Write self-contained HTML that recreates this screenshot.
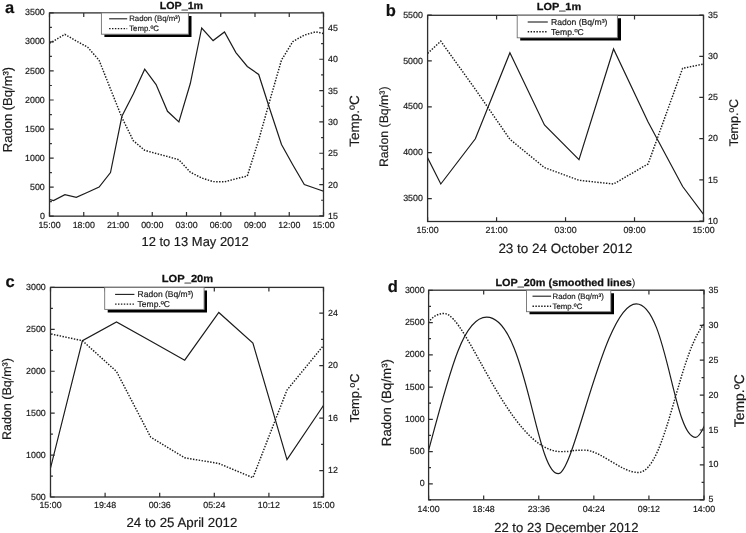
<!DOCTYPE html>
<html><head><meta charset="utf-8"><title>Radon and temperature</title>
<style>html,body{margin:0;padding:0;background:#fff;}body{width:746px;height:533px;overflow:hidden;}svg{display:block;filter:grayscale(1);text-rendering:geometricPrecision;}text{stroke:#1a1a1a;stroke-width:0.18px;font-family:"Liberation Sans",sans-serif;}</style></head><body>
<svg width="746" height="533" viewBox="0 0 746 533">
<rect width="746" height="533" fill="#fff"/>
<g>
<clipPath id="clipa"><rect x="49.5" y="12.9" width="274" height="203.25"/></clipPath>
<g clip-path="url(#clipa)" fill="none" stroke="#1c1c1c">
<path d="M42.1 197.6 L53.5 200.6 L64.9 194.6 L76.3 197.3 L87.7 192.3 L99.1 187 L110.5 172.5 L121.9 116.3 L133.3 94 L144.7 69.2 L156.1 84.6 L167.5 111.3 L178.9 122 L190.3 83.5 L201.7 28 L213.1 40.6 L224.5 32 L235.9 52.6 L247.3 66.5 L258.7 74.5 L270.1 110 L281.5 144.5 L292.9 165 L304.3 184.5 L315.7 188.5 L327.1 192.5" stroke-width="1.2" stroke-linejoin="miter"/>
<path d="M42.1 47.5 L53.5 41 L64.9 34.4 L76.3 41 L87.7 47.2 L99.1 60.3 L110.5 89 L121.9 117.5 L133.3 140.7 L144.7 150.3 L156.1 153.5 L167.5 156.5 L178.9 159.8 L190.3 172.2 L201.7 178 L213.1 181.6 L224.5 181.8 L235.9 178.8 L247.3 176 L258.7 140 L270.1 99.5 L281.5 60 L292.9 41.5 L304.3 35.1 L315.7 31.8 L327.1 34.3" stroke-width="1.45" stroke-dasharray="1.45 1.45"/>
</g>
<path d="M49.5 216.15 v-4.2 M49.5 12.9 v4.2 M83.75 216.15 v-4.2 M83.75 12.9 v4.2 M118 216.15 v-4.2 M118 12.9 v4.2 M152.25 216.15 v-4.2 M152.25 12.9 v4.2 M186.5 216.15 v-4.2 M186.5 12.9 v4.2 M220.75 216.15 v-4.2 M220.75 12.9 v4.2 M255 216.15 v-4.2 M255 12.9 v4.2 M289.25 216.15 v-4.2 M289.25 12.9 v4.2 M323.5 216.15 v-4.2 M323.5 12.9 v4.2 M49.5 216.15 h4.2 M49.5 187.11 h4.2 M49.5 158.08 h4.2 M49.5 129.04 h4.2 M49.5 100.01 h4.2 M49.5 70.97 h4.2 M49.5 41.94 h4.2 M49.5 12.9 h4.2 M49.5 201.63 h2.4 M49.5 172.6 h2.4 M49.5 143.56 h2.4 M49.5 114.53 h2.4 M49.5 85.49 h2.4 M49.5 56.45 h2.4 M49.5 27.42 h2.4 M323.5 215.9 h-4.2 M323.5 184.57 h-4.2 M323.5 153.24 h-4.2 M323.5 121.91 h-4.2 M323.5 90.58 h-4.2 M323.5 59.25 h-4.2 M323.5 27.92 h-4.2 M323.5 200.24 h-2.4 M323.5 168.91 h-2.4 M323.5 137.58 h-2.4 M323.5 106.25 h-2.4 M323.5 74.92 h-2.4 M323.5 43.59 h-2.4 M323.5 12.26 h-2.4" fill="none" stroke="#2e2e2e" stroke-width="1.2"/>
<rect x="49.5" y="12.9" width="274" height="203.25" fill="none" stroke="#2e2e2e" stroke-width="1.3"/>
<path d="M104.4 34.2 H188.4 V15.9 H191.5 V36.9 H104.4 Z" fill="#000"/>
<rect x="101.4" y="12.9" width="87" height="21.3" fill="#fff" stroke="#707070" stroke-width="0.9"/>
<path d="M109.1 18.8 H127.2" stroke="#1c1c1c" stroke-width="1.1" fill="none"/>
<path d="M109.1 28.6 H127.2" stroke="#1c1c1c" stroke-width="1.4" stroke-dasharray="1.45 1.45" fill="none"/>
<text x="129.2" y="21.4" font-size="7.8" fill="#1a1a1a">Radon (Bq/m³)</text>
<text x="129.2" y="31.1" font-size="7.8" fill="#1a1a1a">Temp.ºC</text>
<text x="49.5" y="227.85" font-size="8.85" text-anchor="middle" fill="#1a1a1a">15:00</text>
<text x="83.75" y="227.85" font-size="8.85" text-anchor="middle" fill="#1a1a1a">18:00</text>
<text x="118" y="227.85" font-size="8.85" text-anchor="middle" fill="#1a1a1a">21:00</text>
<text x="152.25" y="227.85" font-size="8.85" text-anchor="middle" fill="#1a1a1a">00:00</text>
<text x="186.5" y="227.85" font-size="8.85" text-anchor="middle" fill="#1a1a1a">03:00</text>
<text x="220.75" y="227.85" font-size="8.85" text-anchor="middle" fill="#1a1a1a">06:00</text>
<text x="255" y="227.85" font-size="8.85" text-anchor="middle" fill="#1a1a1a">09:00</text>
<text x="289.25" y="227.85" font-size="8.85" text-anchor="middle" fill="#1a1a1a">12:00</text>
<text x="323.5" y="227.85" font-size="8.85" text-anchor="middle" fill="#1a1a1a">15:00</text>
<text x="44.8" y="218.7" font-size="8.85" text-anchor="end" fill="#1a1a1a">0</text>
<text x="44.8" y="189.66" font-size="8.85" text-anchor="end" fill="#1a1a1a">500</text>
<text x="44.8" y="160.63" font-size="8.85" text-anchor="end" fill="#1a1a1a">1000</text>
<text x="44.8" y="131.59" font-size="8.85" text-anchor="end" fill="#1a1a1a">1500</text>
<text x="44.8" y="102.56" font-size="8.85" text-anchor="end" fill="#1a1a1a">2000</text>
<text x="44.8" y="73.52" font-size="8.85" text-anchor="end" fill="#1a1a1a">2500</text>
<text x="44.8" y="44.49" font-size="8.85" text-anchor="end" fill="#1a1a1a">3000</text>
<text x="44.8" y="15.45" font-size="8.85" text-anchor="end" fill="#1a1a1a">3500</text>
<text x="328" y="218.95" font-size="8.85" text-anchor="start" fill="#1a1a1a">15</text>
<text x="328" y="187.62" font-size="8.85" text-anchor="start" fill="#1a1a1a">20</text>
<text x="328" y="156.29" font-size="8.85" text-anchor="start" fill="#1a1a1a">25</text>
<text x="328" y="124.96" font-size="8.85" text-anchor="start" fill="#1a1a1a">30</text>
<text x="328" y="93.63" font-size="8.85" text-anchor="start" fill="#1a1a1a">35</text>
<text x="328" y="62.3" font-size="8.85" text-anchor="start" fill="#1a1a1a">40</text>
<text x="328" y="30.97" font-size="8.85" text-anchor="start" fill="#1a1a1a">45</text>
<text transform="translate(181.4 8.5) scale(1.0386 1)" font-size="10.3" font-weight="bold" text-anchor="middle" fill="#111" style="stroke:#111;stroke-width:0.25px">LOP_1m</text>
<text x="195.1" y="246.3" font-size="12.95" text-anchor="middle" fill="#1a1a1a">12 to 13 May 2012</text>
<text transform="translate(11.6 109.5) rotate(-90)" font-size="13" text-anchor="middle" fill="#1a1a1a">Radon (Bq/m³)</text>
<text transform="translate(358.5 121) rotate(-90)" font-size="13.5" text-anchor="middle" fill="#1a1a1a">Temp.ºC</text>
<text x="5" y="13.2" font-size="16.5" font-weight="bold" fill="#111">a</text>
</g>
<g>
<clipPath id="clipb"><rect x="427.6" y="15.3" width="275.9" height="206.2"/></clipPath>
<g clip-path="url(#clipb)" fill="none" stroke="#1c1c1c">
<path d="M406.25 115.5 L440.8 184 L475.35 138.8 L509.9 52.8 L544.45 125 L579 159.6 L613.55 49 L648.1 122 L682.65 186.5 L717.2 232.7" stroke-width="1.2" stroke-linejoin="miter"/>
<path d="M406.25 73 L440.8 41.2 L475.35 89.3 L509.9 139.3 L544.45 167.6 L579 180.3 L613.55 184 L648.1 163.9 L682.65 68.3 L717.2 61.3" stroke-width="1.45" stroke-dasharray="1.45 1.45"/>
</g>
<path d="M427.6 221.5 v-4.2 M427.6 15.3 v4.2 M496.58 221.5 v-4.2 M496.58 15.3 v4.2 M565.55 221.5 v-4.2 M565.55 15.3 v4.2 M634.52 221.5 v-4.2 M634.52 15.3 v4.2 M703.5 221.5 v-4.2 M703.5 15.3 v4.2 M427.6 198.6 h4.2 M427.6 152.72 h4.2 M427.6 106.85 h4.2 M427.6 60.97 h4.2 M427.6 15.1 h4.2 M703.5 221 h-4.2 M703.5 179.82 h-4.2 M703.5 138.64 h-4.2 M703.5 97.46 h-4.2 M703.5 56.28 h-4.2 M703.5 15.1 h-4.2" fill="none" stroke="#2e2e2e" stroke-width="1.2"/>
<rect x="427.6" y="15.3" width="275.9" height="206.2" fill="none" stroke="#2e2e2e" stroke-width="1.3"/>
<path d="M520.2 37.8 H617.4 V18.3 H621 V40.6 H520.2 Z" fill="#000"/>
<rect x="517.2" y="15.3" width="100.2" height="22.5" fill="#fff" stroke="#707070" stroke-width="0.9"/>
<path d="M527.7 22 H547.8" stroke="#1c1c1c" stroke-width="1.1" fill="none"/>
<path d="M527.7 31.8 H547.8" stroke="#1c1c1c" stroke-width="1.4" stroke-dasharray="1.45 1.45" fill="none"/>
<text x="551" y="24.9" font-size="8.6" fill="#1a1a1a">Radon (Bq/m³)</text>
<text x="551" y="34.6" font-size="8.6" fill="#1a1a1a">Temp.ºC</text>
<text x="427.6" y="232.8" font-size="8.85" text-anchor="middle" fill="#1a1a1a">15:00</text>
<text x="496.58" y="232.8" font-size="8.85" text-anchor="middle" fill="#1a1a1a">21:00</text>
<text x="565.55" y="232.8" font-size="8.85" text-anchor="middle" fill="#1a1a1a">03:00</text>
<text x="634.52" y="232.8" font-size="8.85" text-anchor="middle" fill="#1a1a1a">09:00</text>
<text x="703.5" y="232.8" font-size="8.85" text-anchor="middle" fill="#1a1a1a">15:00</text>
<text x="422.9" y="201.15" font-size="8.85" text-anchor="end" fill="#1a1a1a">3500</text>
<text x="422.9" y="155.28" font-size="8.85" text-anchor="end" fill="#1a1a1a">4000</text>
<text x="422.9" y="109.4" font-size="8.85" text-anchor="end" fill="#1a1a1a">4500</text>
<text x="422.9" y="63.52" font-size="8.85" text-anchor="end" fill="#1a1a1a">5000</text>
<text x="422.9" y="17.65" font-size="8.85" text-anchor="end" fill="#1a1a1a">5500</text>
<text x="708" y="223.7" font-size="8.85" text-anchor="start" fill="#1a1a1a">10</text>
<text x="708" y="182.52" font-size="8.85" text-anchor="start" fill="#1a1a1a">15</text>
<text x="708" y="141.34" font-size="8.85" text-anchor="start" fill="#1a1a1a">20</text>
<text x="708" y="100.16" font-size="8.85" text-anchor="start" fill="#1a1a1a">25</text>
<text x="708" y="58.98" font-size="8.85" text-anchor="start" fill="#1a1a1a">30</text>
<text x="708" y="17.8" font-size="8.85" text-anchor="start" fill="#1a1a1a">35</text>
<text transform="translate(558.95 10.3) scale(1.0601 1)" font-size="10.3" font-weight="bold" text-anchor="middle" fill="#111" style="stroke:#111;stroke-width:0.25px">LOP_1m</text>
<text x="565.4" y="252.8" font-size="13.47" text-anchor="middle" fill="#1a1a1a">23 to 24 October 2012</text>
<text transform="translate(387.8 126.8) rotate(-90)" font-size="12.3" text-anchor="middle" fill="#1a1a1a">Radon (Bq/m³)</text>
<text transform="translate(738.4 122.8) rotate(-90)" font-size="12.5" text-anchor="middle" fill="#1a1a1a">Temp.ºC</text>
<text x="385.8" y="15.6" font-size="16.5" font-weight="bold" fill="#111">b</text>
</g>
<g>
<clipPath id="clipc"><rect x="50.5" y="287.4" width="273" height="209.6"/></clipPath>
<g clip-path="url(#clipc)" fill="none" stroke="#1c1c1c">
<path d="M48.3 476.9 L82.4 340.7 L116.5 322 L150.6 341 L184.7 360.2 L218.8 312.5 L252.9 343.1 L287 459.6 L321.1 409 L355.2 358" stroke-width="1.2" stroke-linejoin="miter"/>
<path d="M48.3 333.4 L82.4 340.7 L116.5 371.5 L150.6 437 L184.7 457.8 L218.8 463.5 L252.9 477.7 L287 390 L321.1 348.5 L355.2 307" stroke-width="1.45" stroke-dasharray="1.45 1.45"/>
</g>
<path d="M50.5 497 v-4.2 M50.5 287.4 v4.2 M105.1 497 v-4.2 M105.1 287.4 v4.2 M159.7 497 v-4.2 M159.7 287.4 v4.2 M214.3 497 v-4.2 M214.3 287.4 v4.2 M268.9 497 v-4.2 M268.9 287.4 v4.2 M323.5 497 v-4.2 M323.5 287.4 v4.2 M50.5 497 h4.2 M50.5 455.08 h4.2 M50.5 413.16 h4.2 M50.5 371.24 h4.2 M50.5 329.32 h4.2 M50.5 287.4 h4.2 M50.5 476.04 h2.4 M50.5 434.12 h2.4 M50.5 392.2 h2.4 M50.5 350.28 h2.4 M50.5 308.36 h2.4 M323.5 470.6 h-4.2 M323.5 418.1 h-4.2 M323.5 365.6 h-4.2 M323.5 313.1 h-4.2 M323.5 496.85 h-2.4 M323.5 444.35 h-2.4 M323.5 391.85 h-2.4 M323.5 339.35 h-2.4" fill="none" stroke="#2e2e2e" stroke-width="1.2"/>
<rect x="50.5" y="287.4" width="273" height="209.6" fill="none" stroke="#2e2e2e" stroke-width="1.3"/>
<path d="M107.7 309.4 H204.1 V290.4 H207 V312.5 H107.7 Z" fill="#000"/>
<rect x="104.7" y="287.4" width="99.4" height="22" fill="#fff" stroke="#707070" stroke-width="0.9"/>
<path d="M115.1 294.4 H134.4" stroke="#1c1c1c" stroke-width="1.1" fill="none"/>
<path d="M115.1 304.1 H134.4" stroke="#1c1c1c" stroke-width="1.4" stroke-dasharray="1.45 1.45" fill="none"/>
<text x="137.6" y="296.9" font-size="8.5" fill="#1a1a1a">Radon (Bq/m³)</text>
<text x="137.6" y="306.7" font-size="8.5" fill="#1a1a1a">Temp.ºC</text>
<text x="50.5" y="507.9" font-size="8.85" text-anchor="middle" fill="#1a1a1a">15:00</text>
<text x="105.1" y="507.9" font-size="8.85" text-anchor="middle" fill="#1a1a1a">19:48</text>
<text x="159.7" y="507.9" font-size="8.85" text-anchor="middle" fill="#1a1a1a">00:36</text>
<text x="214.3" y="507.9" font-size="8.85" text-anchor="middle" fill="#1a1a1a">05:24</text>
<text x="268.9" y="507.9" font-size="8.85" text-anchor="middle" fill="#1a1a1a">10:12</text>
<text x="323.5" y="507.9" font-size="8.85" text-anchor="middle" fill="#1a1a1a">15:00</text>
<text x="45.8" y="499.55" font-size="8.85" text-anchor="end" fill="#1a1a1a">500</text>
<text x="45.8" y="457.63" font-size="8.85" text-anchor="end" fill="#1a1a1a">1000</text>
<text x="45.8" y="415.71" font-size="8.85" text-anchor="end" fill="#1a1a1a">1500</text>
<text x="45.8" y="373.79" font-size="8.85" text-anchor="end" fill="#1a1a1a">2000</text>
<text x="45.8" y="331.87" font-size="8.85" text-anchor="end" fill="#1a1a1a">2500</text>
<text x="45.8" y="289.95" font-size="8.85" text-anchor="end" fill="#1a1a1a">3000</text>
<text x="328" y="473.3" font-size="8.85" text-anchor="start" fill="#1a1a1a">12</text>
<text x="328" y="420.8" font-size="8.85" text-anchor="start" fill="#1a1a1a">16</text>
<text x="328" y="368.3" font-size="8.85" text-anchor="start" fill="#1a1a1a">20</text>
<text x="328" y="315.8" font-size="8.85" text-anchor="start" fill="#1a1a1a">24</text>
<text transform="translate(187.5 282.1) scale(1.0818 1)" font-size="10.3" font-weight="bold" text-anchor="middle" fill="#111" style="stroke:#111;stroke-width:0.25px">LOP_20m</text>
<text x="181.9" y="527.4" font-size="13.3" text-anchor="middle" fill="#1a1a1a">24 to 25 April 2012</text>
<text transform="translate(10.7 399.1) rotate(-90)" font-size="12.5" text-anchor="middle" fill="#1a1a1a">Radon (Bq/m³)</text>
<text transform="translate(358.5 398) rotate(-90)" font-size="12.85" text-anchor="middle" fill="#1a1a1a">Temp.ºC</text>
<text x="5.4" y="286.6" font-size="16.5" font-weight="bold" fill="#111">c</text>
</g>
<g>
<clipPath id="clipd"><rect x="428.6" y="290.2" width="275.4" height="209.6"/></clipPath>
<g clip-path="url(#clipd)" fill="none" stroke="#1c1c1c">
<path d="M424.77 464.66 C448.77 375.78 462.02 317.22 486.64 317.22 C526.38 317.22 535.29 473.68 558.3 473.68 C574.71 473.68 603.8 303.79 636.25 303.79 C666.86 303.79 673.15 437.38 695.63 437.38 C701 437.38 708.25 416.02 708.25 416.02" stroke-width="1.2" stroke-linejoin="miter"/>
<path d="M424.9 327.33 C430.97 317.35 436.87 313.51 444.21 313.51 C467 313.51 509.47 451.63 560.96 451.63 C575.37 451.63 568.37 450.14 584.37 450.14 C600.69 450.14 620.95 472.47 638.13 472.47 C667.25 472.47 678.55 344.94 708.03 319.81" stroke-width="1.45" stroke-dasharray="1.45 1.45"/>
</g>
<path d="M428.6 499.8 v-4.2 M428.6 290.2 v4.2 M483.68 499.8 v-4.2 M483.68 290.2 v4.2 M538.76 499.8 v-4.2 M538.76 290.2 v4.2 M593.84 499.8 v-4.2 M593.84 290.2 v4.2 M648.92 499.8 v-4.2 M648.92 290.2 v4.2 M704 499.8 v-4.2 M704 290.2 v4.2 M428.6 483.9 h4.2 M428.6 451.65 h4.2 M428.6 419.4 h4.2 M428.6 387.15 h4.2 M428.6 354.9 h4.2 M428.6 322.65 h4.2 M428.6 290.4 h4.2 M428.6 499.9 h2.4 M428.6 467.65 h2.4 M428.6 435.4 h2.4 M428.6 403.15 h2.4 M428.6 370.9 h2.4 M428.6 338.65 h2.4 M428.6 306.4 h2.4 M704 499.8 h-4.2 M704 464.9 h-4.2 M704 430 h-4.2 M704 395.1 h-4.2 M704 360.2 h-4.2 M704 325.3 h-4.2 M704 290.4 h-4.2 M704 482.35 h-2.4 M704 447.45 h-2.4 M704 412.55 h-2.4 M704 377.65 h-2.4 M704 342.75 h-2.4 M704 307.85 h-2.4" fill="none" stroke="#2e2e2e" stroke-width="1.2"/>
<rect x="428.6" y="290.2" width="275.4" height="209.6" fill="none" stroke="#2e2e2e" stroke-width="1.3"/>
<path d="M529.5 311.7 H610.8 V293.2 H614 V314.3 H529.5 Z" fill="#000"/>
<rect x="526.5" y="290.2" width="84.3" height="21.5" fill="#fff" stroke="#707070" stroke-width="0.9"/>
<path d="M532.5 296.2 H551.1" stroke="#1c1c1c" stroke-width="1.1" fill="none"/>
<path d="M532.5 306.3 H551.1" stroke="#1c1c1c" stroke-width="1.4" stroke-dasharray="1.45 1.45" fill="none"/>
<text x="552.6" y="298.8" font-size="7.8" fill="#1a1a1a">Radon (Bq/m³)</text>
<text x="552.6" y="308.5" font-size="7.8" fill="#1a1a1a">Temp.ºC</text>
<text x="428.6" y="511.5" font-size="8.85" text-anchor="middle" fill="#1a1a1a">14:00</text>
<text x="483.68" y="511.5" font-size="8.85" text-anchor="middle" fill="#1a1a1a">18:48</text>
<text x="538.76" y="511.5" font-size="8.85" text-anchor="middle" fill="#1a1a1a">23:36</text>
<text x="593.84" y="511.5" font-size="8.85" text-anchor="middle" fill="#1a1a1a">04:24</text>
<text x="648.92" y="511.5" font-size="8.85" text-anchor="middle" fill="#1a1a1a">09:12</text>
<text x="704" y="511.5" font-size="8.85" text-anchor="middle" fill="#1a1a1a">14:00</text>
<text x="424.6" y="486.45" font-size="8.85" text-anchor="end" fill="#1a1a1a">0</text>
<text x="424.6" y="454.2" font-size="8.85" text-anchor="end" fill="#1a1a1a">500</text>
<text x="424.6" y="421.95" font-size="8.85" text-anchor="end" fill="#1a1a1a">1000</text>
<text x="424.6" y="389.7" font-size="8.85" text-anchor="end" fill="#1a1a1a">1500</text>
<text x="424.6" y="357.45" font-size="8.85" text-anchor="end" fill="#1a1a1a">2000</text>
<text x="424.6" y="325.2" font-size="8.85" text-anchor="end" fill="#1a1a1a">2500</text>
<text x="424.6" y="292.95" font-size="8.85" text-anchor="end" fill="#1a1a1a">3000</text>
<text x="708.5" y="502.3" font-size="8.85" text-anchor="start" fill="#1a1a1a">5</text>
<text x="708.5" y="467.4" font-size="8.85" text-anchor="start" fill="#1a1a1a">10</text>
<text x="708.5" y="432.5" font-size="8.85" text-anchor="start" fill="#1a1a1a">15</text>
<text x="708.5" y="397.6" font-size="8.85" text-anchor="start" fill="#1a1a1a">20</text>
<text x="708.5" y="362.7" font-size="8.85" text-anchor="start" fill="#1a1a1a">25</text>
<text x="708.5" y="327.8" font-size="8.85" text-anchor="start" fill="#1a1a1a">30</text>
<text x="708.5" y="292.9" font-size="8.85" text-anchor="start" fill="#1a1a1a">35</text>
<text transform="translate(565.4 285.9) scale(1.0543 1)" font-size="10.3" font-weight="bold" text-anchor="middle" fill="#111" style="stroke:#111;stroke-width:0.25px">LOP_20m (smoothed lines<tspan font-weight="normal" stroke="none">)</tspan></text>
<text x="566.3" y="531.5" font-size="13.12" text-anchor="middle" fill="#1a1a1a">22 to 23 December 2012</text>
<text transform="translate(390.8 402.6) rotate(-90)" font-size="13.3" text-anchor="middle" fill="#1a1a1a">Radon (Bq/m³)</text>
<text transform="translate(743.5 400.7) rotate(-90)" font-size="13.9" text-anchor="middle" fill="#1a1a1a">Temp.ºC</text>
<text x="387.8" y="291.5" font-size="16.5" font-weight="bold" fill="#111">d</text>
</g>
</svg></body></html>
